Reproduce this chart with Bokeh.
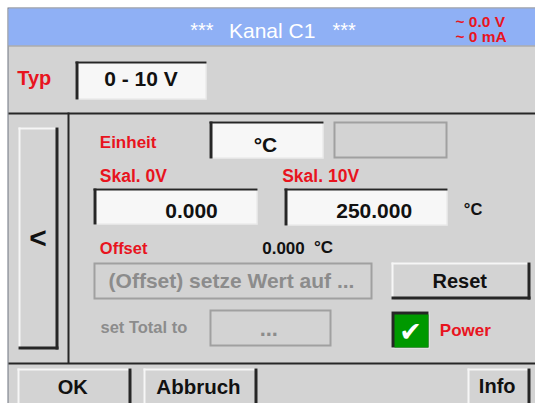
from bokeh.plotting import figure
from bokeh.models import Range1d, ColumnDataSource
from bokeh.core.properties import value
from bokeh.embed import file_html
from bokeh.resources import INLINE

# ---------------- content: the texts shown on the screen ----------------
title_stars = "***"
title_text = "Kanal C1"
status_lines = ["~ 0.0 V", "~ 0 mA"]
field_labels = ["Typ", "Einheit", "Skal. 0V", "Skal. 10V", "Offset", "Power"]
field_values = ["0 - 10 V", "°C", "0.000", "250.000"]
unit_text = "°C"
offset_value = "0.000"
hint_text = "(Offset) setze Wert auf ..."
total_label = "set Total to"
total_value = "..."
button_labels = ["<", "Reset", "OK", "Abbruch", "Info"]
check_glyph = "\u2714"

# ---------------- colours ----------------
HEADER = "#8fb0f5"
PANEL = "#d3d3d3"
BOXFILL = "#f7f7f7"
DARK = "#262626"
LIGHT = "#f6f6f6"
FLATEDGE = "#a0a0a0"
RED = "#e8141e"
GREYTXT = "#8c8c8c"
GREEN = "#009900"
BLACK = "#111111"

# ---------------- layout (page pixels: left, right, top, bottom) ----------------
frame_box = (7, 535, 7, 403)
header_box = (8, 535, 8, 45)
sunken_boxes = [(75, 206, 61, 99), (209, 323, 121, 158), (93, 257, 188, 224), (284, 447, 188, 225)]
flat_boxes = [(333, 447, 121, 158), (93, 372, 262, 299), (209, 331, 309, 346)]
raised_boxes = [(18, 58, 127, 349), (391, 530, 262, 299), (17, 131, 368, 420),
                (143, 257, 368, 420), (467, 530, 368, 420)]
check_box = (391, 429, 311, 348)

W, H = 535, 403
p = figure(width=W, height=H, x_range=Range1d(0, W), y_range=Range1d(H, 0),
           output_backend="svg", toolbar_location=None, min_border=0,
           x_axis_location=None, y_axis_location=None,
           background_fill_color="white", border_fill_color="white")
p.grid.visible = False
p.outline_line_color = None

Q = dict(left=[], right=[], top=[], bottom=[], color=[])


def rect(l, r, t, b, c):
    Q["left"].append(l)
    Q["right"].append(r)
    Q["top"].append(t)
    Q["bottom"].append(b)
    Q["color"].append(c)


# frame + header
l, r, t, b = frame_box
rect(l, r, t, b, "#6f7480")
rect(l + 1, r, t + 1, b, PANEL)
l, r, t, b = header_box
rect(l, r, t, b, HEADER)
rect(l, r, b, b + 1, "#9a9a9a")
# separators
rect(8, 535, 112, 114, DARK)
rect(67, 69, 112, 363, DARK)
rect(8, 535, 362, 364, DARK)

for (l, r, t, b) in sunken_boxes:
    rect(l, r, t, b, BOXFILL)
    rect(l, r, b - 1, b, "#e6e6e6")
    rect(r - 1, r, t, b, "#e6e6e6")
    rect(l, r, t, t + 2, DARK)
    rect(l, l + 3, t, b, DARK)

for (l, r, t, b) in flat_boxes:
    rect(l, r, t, b, FLATEDGE)
    rect(l + 2, r - 2, t + 2, b - 2, PANEL)

for (l, r, t, b) in raised_boxes:
    rect(l, r, t, b, PANEL)
    rect(l, r, t, t + 2, LIGHT)
    rect(l, l + 2, t, b, LIGHT)
    rect(r - 3, r, t, b, DARK)
    rect(l, r, b - 3, b, DARK)

l, r, t, b = check_box
rect(l, r, t, b, "#eeeeee")
rect(l, r - 1, t, b - 1, DARK)
rect(l + 3, r - 1, t + 3, b - 1, GREEN)

p.quad(left="left", right="right", top="top", bottom="bottom", fill_color="color",
       line_color=None, source=ColumnDataSource(Q))

# ---------------- texts ----------------
# the renderer places the given y about 0.38 em above the alphabetic baseline
K = 0.38
T = {"left": dict(x=[], y=[], text=[], size=[], color=[], style=[]),
     "center": dict(x=[], y=[], text=[], size=[], color=[], style=[])}


def txt(s, x, base, size, color, style="bold", align="left"):
    d = T[align]
    d["x"].append(x)
    d["y"].append(base - K * size)
    d["text"].append(s)
    d["size"].append(f"{size}px")
    d["color"].append(color)
    d["style"].append(style)


# header
txt(title_stars, 201.3, 37.5, 20, "white", "normal", "center")
txt(title_text, 271.7, 37.5, 21, "white", "normal", "center")
txt(title_stars, 343.7, 37.5, 20, "white", "normal", "center")
txt(status_lines[0], 455, 26.7, 15.5, RED)
txt(status_lines[1], 455, 41.5, 15.5, RED)
# labels
txt(field_labels[0], 16.7, 85, 20, RED)
txt(field_labels[1], 99.3, 148.3, 17, RED)
txt(field_labels[2], 99.3, 181.7, 17.5, RED)
txt(field_labels[3], 281.7, 181.7, 17.5, RED)
txt(field_labels[4], 99.3, 253.5, 16.5, RED)
txt(field_labels[5], 439.3, 336, 17, RED)
# values
txt(field_values[0], 140.5, 86, 21, BLACK, align="center")
txt(field_values[1], 265, 151.7, 21, BLACK, align="center")
txt(field_values[2], 191, 218.3, 21, BLACK, align="center")
txt(field_values[3], 373.7, 218.3, 21, BLACK, align="center")
txt(unit_text, 463.3, 215, 16.5, BLACK)
txt(offset_value, 261.7, 253.5, 17, BLACK)
txt(unit_text, 313.5, 253.5, 17, BLACK)
txt(hint_text, 231, 287.5, 21, GREYTXT, align="center")
txt(total_label, 100, 332.7, 16.5, GREYTXT)
txt(total_value, 268.3, 336.5, 22, GREYTXT, align="center")
# buttons
txt(button_labels[0], 37.5, 248.5, 30, BLACK, align="center")
txt(button_labels[1], 459.2, 288.3, 20, BLACK, align="center")
txt(button_labels[2], 72.3, 394, 20, BLACK, align="center")
txt(button_labels[3], 198, 394, 20.5, BLACK, align="center")
txt(button_labels[4], 496.7, 393.5, 20, BLACK, align="center")

for align, d in T.items():
    p.text(x="x", y="y", text="text", source=ColumnDataSource(d),
           text_font=value("Liberation Sans"), text_font_size="size",
           text_color="color", text_font_style="style",
           text_align=align, text_baseline="alphabetic")

# check mark in the power box
p.text(x=[410], y=[341 - K * 27], text=[check_glyph], text_font=value("DejaVu Sans"),
       text_font_size="27px", text_color="white", text_align="center",
       text_baseline="alphabetic")

open("out.html", "w").write(file_html(p, INLINE))
